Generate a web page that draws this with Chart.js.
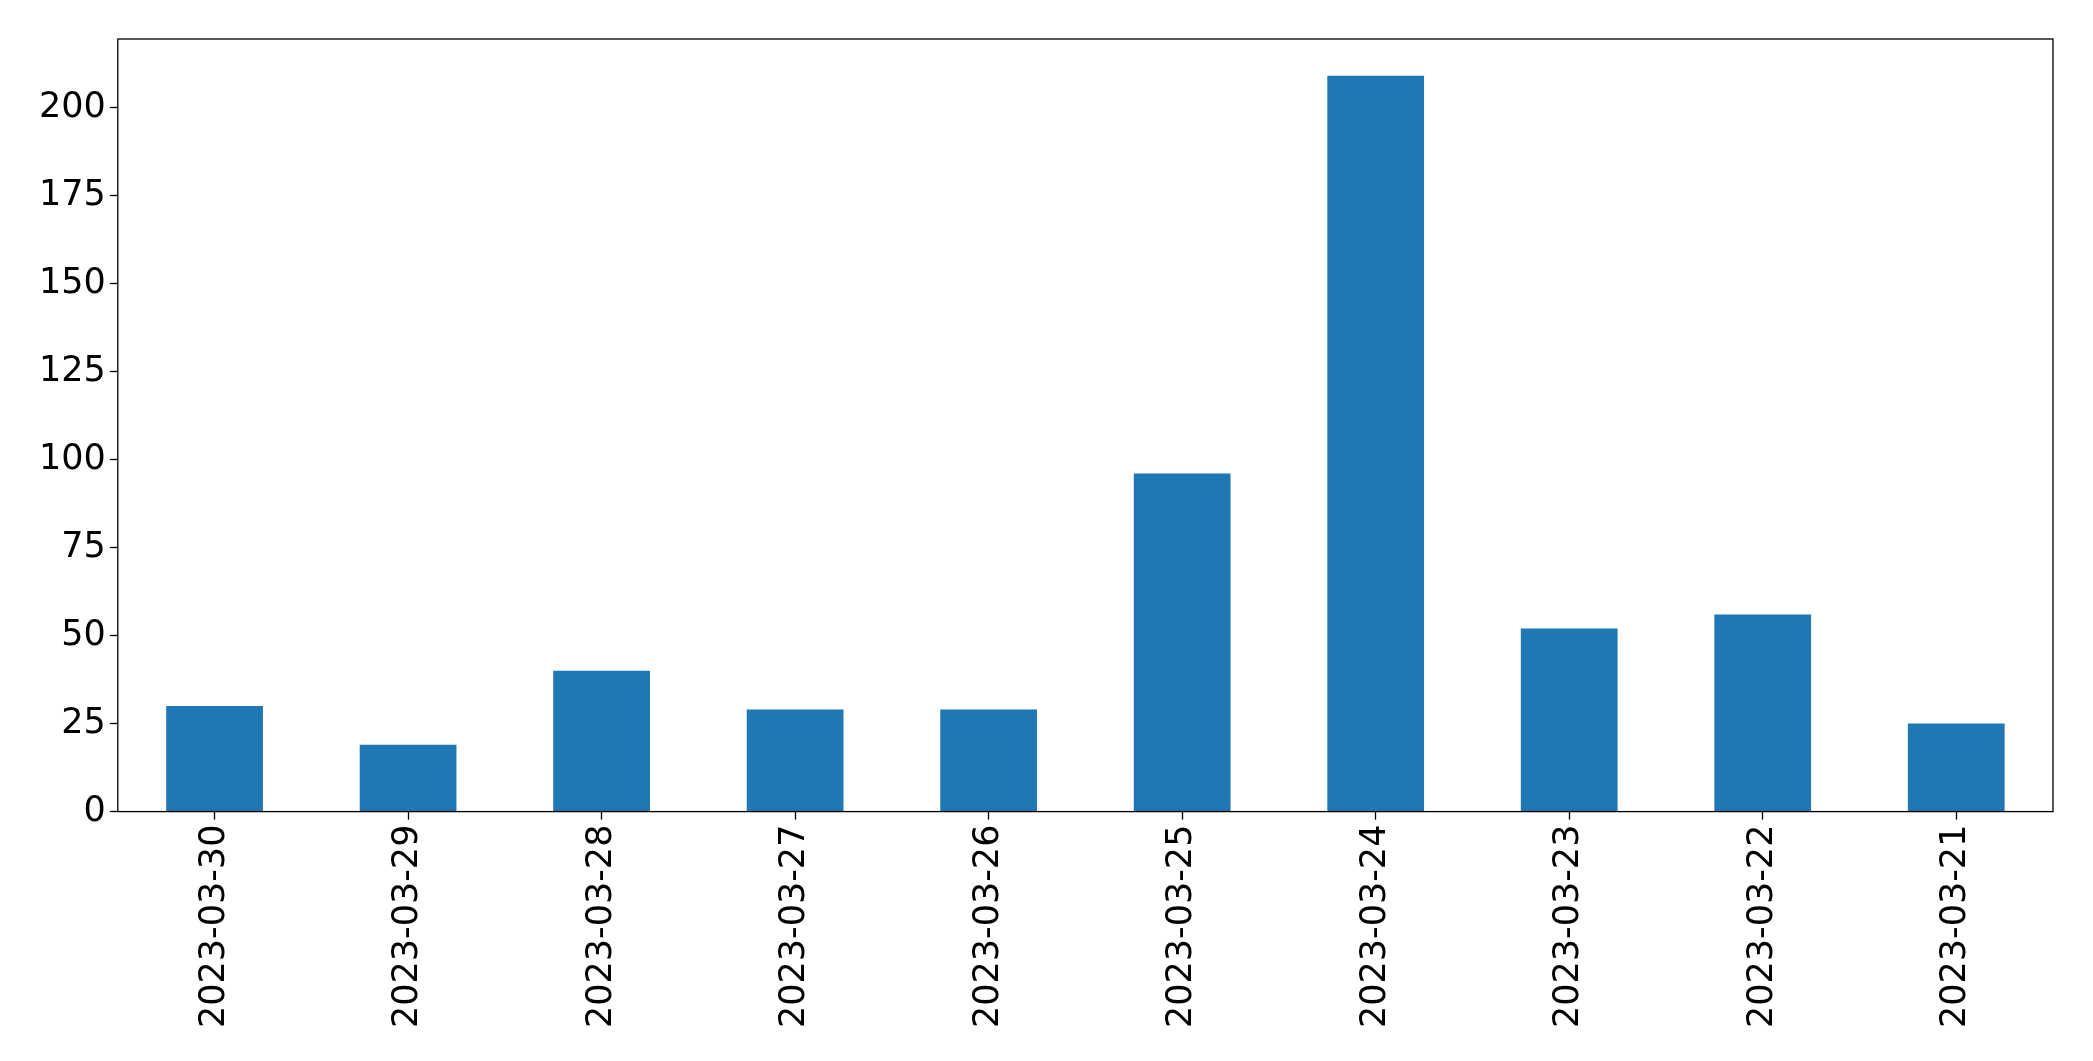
<!DOCTYPE html>
<html>
<head>
<meta charset="utf-8">
<script src="https://cdn.jsdelivr.net/npm/chart.js@4.4.0/dist/chart.umd.min.js"></script>
<style>
  html, body { margin: 0; padding: 0; background: #fff; }
  #wrap { width: 2093px; height: 1061px; position: relative; }
</style>
</head>
<body>
<div id="wrap"><canvas id="bar-chart"></canvas></div>
<script>
const dates = [
  "2023-03-30", "2023-03-29", "2023-03-28", "2023-03-27", "2023-03-26",
  "2023-03-25", "2023-03-24", "2023-03-23", "2023-03-22", "2023-03-21",
];
const counts = [30, 19, 40, 29, 29, 96, 209, 52, 56, 25];
const yTicks = [0, 25, 50, 75, 100, 125, 150, 175, 200];

// matplotlib-style box around the plot area
const frame = {
  id: "frame",
  afterDraw(chart) {
    const { ctx, chartArea: a } = chart;
    ctx.save();
    ctx.strokeStyle = "#000";
    ctx.lineWidth = 1.3;
    ctx.strokeRect(a.left, a.top, a.right - a.left, a.bottom - a.top);
    ctx.restore();
  },
};

const config = {
  type: "bar",
  data: {
    labels: dates,
    datasets: [
      {
        data: counts,
        backgroundColor: "#1f77b4",
        borderWidth: 0,
        categoryPercentage: 1.0,
        barPercentage: 0.5,
      },
    ],
  },
  options: {
    responsive: true,
    maintainAspectRatio: false,
    animation: false,
    devicePixelRatio: 1,
    layout: { padding: { left: 35, top: 39, right: 40, bottom: 28 } },
    plugins: {
      legend: { display: false },
      tooltip: { enabled: false },
    },
    scales: {
      x: {
        offset: true,
        grid: {
          offset: false,
          drawOnChartArea: false,
          drawTicks: true,
          tickLength: 8,
          tickWidth: 1.3,
          tickColor: "#000",
        },
        border: { display: false },
        ticks: {
          color: "#000",
          minRotation: 90,
          maxRotation: 90,
          autoSkip: false,
          padding: 5,
          font: { family: "DejaVu Sans", size: 35 },
        },
      },
      y: {
        min: 0,
        max: 219.45,
        afterBuildTicks(axis) {
          axis.ticks = yTicks.map(v => ({ value: v }));
        },
        grid: {
          drawOnChartArea: false,
          drawTicks: true,
          tickLength: 8,
          tickWidth: 1.3,
          tickColor: "#000",
        },
        border: { display: false },
        ticks: {
          color: "#000",
          padding: 4,
          font: { family: "DejaVu Sans", size: 35 },
        },
      },
    },
  },
  plugins: [frame],
};

new Chart(document.getElementById("bar-chart").getContext("2d"), config);
</script>
</body>
</html>
